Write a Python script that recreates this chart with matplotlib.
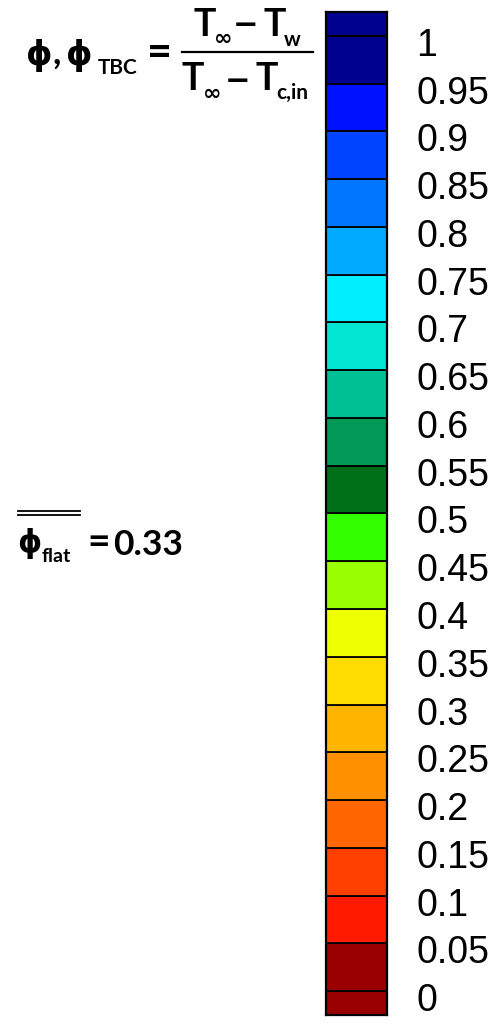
import matplotlib
matplotlib.use("Agg")
import matplotlib.pyplot as plt
from matplotlib.transforms import offset_copy

W, H = 500, 1024

# contour levels of the legend (bottom to top) and their labels
levels = [0.0, 0.05, 0.1, 0.15, 0.2, 0.25, 0.3, 0.35, 0.4, 0.45, 0.5,
          0.55, 0.6, 0.65, 0.7, 0.75, 0.8, 0.85, 0.9, 0.95, 1.0]
level_labels = ["0", "0.05", "0.1", "0.15", "0.2", "0.25", "0.3", "0.35",
                "0.4", "0.45", "0.5", "0.55", "0.6", "0.65", "0.7", "0.75",
                "0.8", "0.85", "0.9", "0.95", "1"]

# flood colour of each band between consecutive levels (bottom to top)
band_colors = ["#990000", "#ff1a00", "#ff4000", "#ff6600", "#ff9000",
               "#ffb400", "#ffdd00", "#eeff00", "#99ff00", "#33ff00",
               "#007018", "#009955", "#00c096", "#00e6d2", "#00eeff",
               "#00aaff", "#0077ff", "#0044ff", "#0011ff", "#00008f"]
under_color = "#990000"
over_color = "#00008f"
ext = 0.025  # half band shown beyond both ends

flat_mean = 0.33


def fx(x):
    return x / W


def fy(y):
    return 1 - y / H


fig = plt.figure(figsize=(W / 100, H / 100), dpi=100)
fig.patch.set_facecolor("white")

# ---- colour legend ----
ax = fig.add_axes([fx(326), fy(1015), (387 - 326) / W, (1015 - 12) / H])
step = [hi - lo for lo, hi in zip(levels[:-1], levels[1:])]
ax.bar(0, ext, bottom=levels[0] - ext, width=1, color=under_color,
       edgecolor="black", linewidth=1.3, align="center")
ax.bar([0] * len(step), step, bottom=levels[:-1], width=1, color=band_colors,
       edgecolor="black", linewidth=1.3, align="center")
ax.bar(0, ext, bottom=levels[-1], width=1, color=over_color,
       edgecolor="black", linewidth=1.3, align="center")
ax.set_xlim(-0.5, 0.5)
ax.set_ylim(levels[0] - ext, levels[-1] + ext)
ax.set_xticks([])
ax.set_yticks([])
for s in ax.spines.values():
    s.set_linewidth(1.6)
    s.set_edgecolor("black")

lab_tr = offset_copy(ax.get_yaxis_transform(), fig=fig, x=0, y=-10, units="dots")
for v, t in zip(levels, level_labels):
    ax.text((416 - 326) / 61, v, t, transform=lab_tr, ha="left", va="center",
            fontsize=27, family="Liberation Sans", color="black")

# ---- formula header ----
bold = dict(family=["Lato", "DejaVu Sans"], fontweight="bold", color="black")
sym = dict(family=["DejaVu Sans"], fontweight="bold", color="black")


def put(x, y, s, size, props, ha="left", va="baseline"):
    fig.text(fx(x), fy(y), s, fontsize=size, ha=ha, va=va, **props)


put(26, 65, "\u03d5", 24, sym)
put(53, 64, ",", 26, bold)
put(66, 65, "\u03d5", 24, sym)
put(98, 74, "TBC", 15, bold)
put(160, 53, "=", 31, bold, ha="center", va="center")

# fraction bar
fig.add_artist(plt.Line2D([fx(182), fx(313)], [fy(52), fy(52)],
                          transform=fig.transFigure, color="black", lw=1.6))
# numerator
put(193, 36, "T", 27, bold)
put(214, 45, "\u221e", 16, sym)
put(246, 26, "\u2212", 22, sym, ha="center", va="center")
put(263, 36, "T", 27, bold)
put(284, 46, "w", 15, bold)
# denominator
put(182, 90, "T", 27, bold)
put(203, 100, "\u221e", 16, sym)
put(237, 82, "\u2212", 22, sym, ha="center", va="center")
put(255, 90, "T", 27, bold)
put(276, 99, "c,in", 15, bold)

# ---- mean value on the flat plate ----
put(17, 552, "\u03d5", 22, sym)
put(42, 562, "flat", 14, bold)
for yy in (511, 515):
    fig.add_artist(plt.Line2D([fx(18), fx(80)], [fy(yy), fy(yy)],
                              transform=fig.transFigure, color="black", lw=1.3))
put(99, 543, "=", 28, bold, ha="center", va="center")
put(113, 555, f"{flat_mean:.2f}", 25.5, bold)

fig.savefig("out.png", dpi=100, facecolor="white")
